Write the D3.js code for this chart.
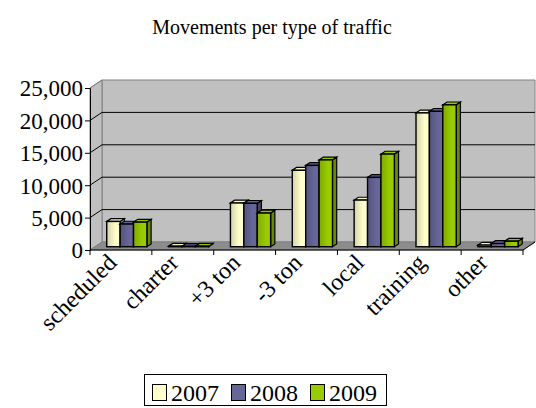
<!DOCTYPE html>
<html>
<head>
<meta charset="utf-8">
<script src="https://cdn.jsdelivr.net/npm/d3@7"></script>
<style>
  html, body { margin: 0; padding: 0; background: #fff; }
</style>
</head>
<body>
<svg id="chart" width="536" height="408"></svg>
<script>
'use strict';

// ── Data ──────────────────────────────────────────────────────────────────
const categories = ['scheduled', 'charter', '+3 ton', '-3 ton', 'local', 'training', 'other'];
const years      = ['2007', '2008', '2009'];
const v2007      = [3900, 80, 6750, 11800, 7200, 20650, 250];
const v2008      = [3500, 60, 6700, 12550, 10700, 20900, 500];
const v2009      = [3800, 80, 5200, 13400, 14300, 21900, 850];
const yTicks     = [0, 5000, 10000, 15000, 20000, 25000];
const colors     = ['#ffffcc', '#666699', '#99cc00'];

(function () {
  const FONT = 'Liberation Serif';
  const svg = d3.select('#chart').attr('font-family', FONT);
  const series = [v2007, v2008, v2009];

  // ── Geometry ────────────────────────────────────────────────────────────
  const DX = 12, DY = -8;          // full depth offset of the 3D box
  const D1 = 0.41, D2 = 0.76;      // bar front / back depth (fraction)

  const y = d3.scaleLinear().domain([0, 25000]).range([250, 88]);
  const x = d3.scaleBand().domain(categories).range([90, 523]).padding(0);
  const xs = d3.scaleBand().domain(years).range([11.8, 52]).padding(0);

  const X0 = 90, X1 = 523;
  const pts = a => a.map(p => p.join(',')).join(' ');

  // ── Walls & floor ───────────────────────────────────────────────────────
  svg.append('polygon')   // back wall
    .attr('points', pts([[X0 + DX, y(25000) + DY], [X1 + DX, y(25000) + DY],
                         [X1 + DX, y(0) + DY], [X0 + DX, y(0) + DY]]))
    .attr('fill', '#c0c0c0').attr('stroke', '#808080');

  svg.append('polygon')   // left side wall
    .attr('points', pts([[X0, y(25000)], [X0 + DX, y(25000) + DY],
                         [X0 + DX, y(0) + DY], [X0, y(0)]]))
    .attr('fill', '#c0c0c0').attr('stroke', '#808080');

  svg.append('polygon')   // floor
    .attr('points', pts([[X0, y(0)], [X1, y(0)], [X1 + DX, y(0) + DY], [X0 + DX, y(0) + DY]]))
    .attr('fill', '#8c8c8c').attr('stroke', '#808080');

  // Gridlines (back wall + side wall)
  yTicks.filter(t => t > 0 && t < 25000).forEach(t => {
    svg.append('polyline')
      .attr('points', pts([[X0, y(t)], [X0 + DX, y(t) + DY], [X1 + DX, y(t) + DY]]))
      .attr('fill', 'none').attr('stroke', '#000').attr('stroke-width', 1);
  });

  // ── Bar gradients ───────────────────────────────────────────────────────
  const defs = svg.append('defs');
  colors.forEach((c, i) => {
    const g = defs.append('linearGradient').attr('id', 'grad' + i)
      .attr('x1', 0).attr('x2', 1).attr('y1', 0).attr('y2', 0);
    g.append('stop').attr('offset', '0%').attr('stop-color', d3.color(c).darker(0.55));
    g.append('stop').attr('offset', '65%').attr('stop-color', c);
    g.append('stop').attr('offset', '100%').attr('stop-color', c);
  });

  // ── Bars (left to right so right side faces get covered) ──────────────
  const bars = svg.append('g').attr('class', 'bars');
  categories.forEach((cat, ci) => {
    series.forEach((vals, si) => {
      const v  = vals[ci];
      const bx = x(cat) + xs(years[si]);
      const w  = xs.bandwidth();
      const yt = y(v), yb = y(0);
      const f1x = DX * D1, f1y = DY * D1, f2x = DX * D2, f2y = DY * D2;
      const c = colors[si];

      // side face
      bars.append('polygon')
        .attr('points', pts([[bx + w + f1x, yt + f1y], [bx + w + f2x, yt + f2y],
                             [bx + w + f2x, yb + f2y], [bx + w + f1x, yb + f1y]]))
        .attr('fill', d3.color(c).darker(1.1)).attr('stroke', '#000').attr('stroke-width', 1.2);
      // top face
      bars.append('polygon')
        .attr('points', pts([[bx + f1x, yt + f1y], [bx + w + f1x, yt + f1y],
                             [bx + w + f2x, yt + f2y], [bx + f2x, yt + f2y]]))
        .attr('fill', d3.color(c).darker(0.1)).attr('stroke', '#000').attr('stroke-width', 1.2);
      // front face
      bars.append('rect')
        .attr('x', bx + f1x).attr('y', yt + f1y)
        .attr('width', w).attr('height', Math.max(0, yb - yt))
        .attr('fill', `url(#grad${si})`).attr('stroke', '#000').attr('stroke-width', 1.4);
    });
  });

  // ── Axes ────────────────────────────────────────────────────────────────
  const yAxis = d3.axisLeft(y).tickValues(yTicks).tickSize(5).tickPadding(2)
    .tickFormat(d3.format(','));
  svg.append('g')
    .attr('transform', `translate(${X0},0)`)
    .call(yAxis)
    .attr('font-family', FONT).attr('font-size', 23)
    .call(ax => ax.select('.domain').attr('stroke', '#000'))
    .call(ax => ax.selectAll('text').attr('fill', '#000').attr('dy', '0.34em'));

  // top-left diagonal of the box
  svg.append('line')
    .attr('x1', X0).attr('y1', y(25000)).attr('x2', X0 + DX).attr('y2', y(25000) + DY)
    .attr('stroke', '#808080');

  const xg = svg.append('g').attr('transform', `translate(0,${y(0)})`);
  xg.append('line').attr('x1', X0).attr('x2', X1).attr('y1', 0).attr('y2', 0).attr('stroke', '#000');
  [...categories.map(c => x(c)), X1].forEach(t => {
    xg.append('line').attr('x1', t).attr('x2', t).attr('y1', 0).attr('y2', 5).attr('stroke', '#000');
  });
  svg.append('line')
    .attr('x1', X1).attr('y1', y(0)).attr('x2', X1 + DX).attr('y2', y(0) + DY)
    .attr('stroke', '#000');

  // category labels (rotated)
  categories.forEach(cat => {
    const cx = x(cat) + x.bandwidth() / 2 - 3;
    svg.append('text')
      .attr('transform', `translate(${cx},${y(0) + 14}) rotate(-45)`)
      .attr('text-anchor', 'end')
      .attr('font-family', FONT)
      .attr('font-size', 24)
      .text(cat);
  });

  // ── Title ───────────────────────────────────────────────────────────────
  svg.append('text')
    .attr('x', 272).attr('y', 34)
    .attr('text-anchor', 'middle')
    .attr('font-family', FONT)
    .attr('font-size', 20)
    .text('Movements per type of traffic');

  // ── Legend ──────────────────────────────────────────────────────────────
  const lg = svg.append('g').attr('class', 'legend');
  lg.append('rect')
    .attr('x', 144.5).attr('y', 374.5).attr('width', 242).attr('height', 31)
    .attr('fill', '#fff').attr('stroke', '#000');
  const legendX = [152, 231, 310];
  years.forEach((yr, i) => {
    lg.append('rect')
      .attr('x', legendX[i] + 0.5).attr('y', 384.5).attr('width', 14).attr('height', 16)
      .attr('fill', colors[i]).attr('stroke', '#000');
    lg.append('text')
      .attr('x', legendX[i] + 19).attr('y', 401)
      .attr('font-family', FONT)
      .attr('font-size', 24)
      .text(yr);
  });
})();
</script>
</body>
</html>
